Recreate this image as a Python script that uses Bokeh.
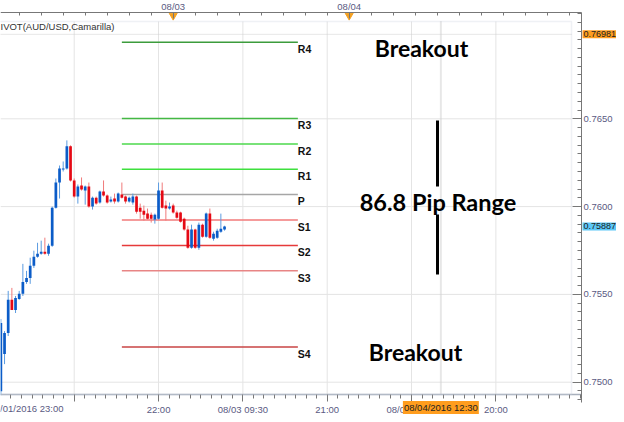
import numpy as np
from bokeh.plotting import figure
from bokeh.models import (ColumnDataSource, FixedTicker, LinearAxis, Range1d, Label,
                          BoxAnnotation, PrintfTickFormatter)
from bokeh.core.properties import value
from bokeh.embed import file_html
from bokeh.resources import INLINE

# ---------------- data ----------------
# 30-minute AUD/USD candles, time in hours relative to 08/03/2016 00:00
first_candle_hour = -23.5
candle_step_hours = 0.5
opens = [0.74949, 0.75160, 0.75280, 0.75469, 0.75411, 0.75474, 0.75503, 0.75571, 0.75594, 0.75663,
         0.75714, 0.75731, 0.75743, 0.75731, 0.75777, 0.75994, 0.76137, 0.76211, 0.76217, 0.76343,
         0.76149, 0.76057, 0.76120, 0.76091, 0.76114, 0.76000, 0.76051, 0.76023, 0.76086, 0.76063,
         0.76029, 0.76046, 0.76029, 0.76069, 0.76057, 0.76029, 0.76023, 0.76057, 0.75994, 0.75977,
         0.75960, 0.75954, 0.75926, 0.75931, 0.76091, 0.76006, 0.75989, 0.76006, 0.75966, 0.75966,
         0.75931, 0.75869, 0.75766, 0.75869, 0.75766, 0.75897, 0.75829, 0.75960, 0.75817, 0.75823,
         0.75857, 0.75869]
highs = [0.75360, 0.75291, 0.75520, 0.75537, 0.75491, 0.75520, 0.75674, 0.75634, 0.75709, 0.75749,
         0.75794, 0.75806, 0.75823, 0.75789, 0.76000, 0.76160, 0.76234, 0.76257, 0.76377, 0.76349,
         0.76160, 0.76126, 0.76166, 0.76120, 0.76137, 0.76057, 0.76057, 0.76091, 0.76149, 0.76069,
         0.76057, 0.76074, 0.76080, 0.76137, 0.76063, 0.76057, 0.76074, 0.76063, 0.76017, 0.76006,
         0.75989, 0.75966, 0.75960, 0.76137, 0.76137, 0.76034, 0.76023, 0.76017, 0.75977, 0.75971,
         0.75937, 0.75891, 0.75897, 0.75874, 0.75909, 0.75903, 0.75966, 0.75989, 0.75857, 0.75874,
         0.75960, 0.75891]
lows = [0.74926, 0.75103, 0.75263, 0.75411, 0.75394, 0.75469, 0.75491, 0.75560, 0.75560, 0.75651,
        0.75709, 0.75726, 0.75726, 0.75720, 0.75771, 0.75989, 0.76046, 0.76200, 0.76211, 0.76143,
        0.76051, 0.76017, 0.76091, 0.76011, 0.75994, 0.75983, 0.76011, 0.76017, 0.76057, 0.76017,
        0.76023, 0.76017, 0.76023, 0.76046, 0.76017, 0.76023, 0.76011, 0.75960, 0.75931, 0.75920,
        0.75926, 0.75909, 0.75903, 0.75926, 0.75989, 0.75920, 0.75983, 0.75960, 0.75931, 0.75909,
        0.75863, 0.75760, 0.75760, 0.75760, 0.75754, 0.75823, 0.75823, 0.75817, 0.75806, 0.75817,
        0.75851, 0.75863]
closes = [0.75337, 0.75280, 0.75469, 0.75411, 0.75480, 0.75503, 0.75571, 0.75594, 0.75663, 0.75714,
          0.75731, 0.75743, 0.75731, 0.75777, 0.75994, 0.76137, 0.76217, 0.76217, 0.76343, 0.76149,
          0.76057, 0.76114, 0.76097, 0.76114, 0.76000, 0.76051, 0.76017, 0.76086, 0.76063, 0.76023,
          0.76040, 0.76029, 0.76074, 0.76051, 0.76029, 0.76051, 0.76057, 0.75971, 0.75971, 0.75954,
          0.75931, 0.75931, 0.75954, 0.76091, 0.75994, 0.75989, 0.76000, 0.75966, 0.75937, 0.75914,
          0.75869, 0.75766, 0.75869, 0.75766, 0.75897, 0.75829, 0.75960, 0.75823, 0.75846, 0.75863,
          0.75874, 0.75887]

# Camarilla pivot levels
pivot_names = ["R4", "R3", "R2", "R1", "P", "S1", "S2", "S3", "S4"]
pivot_values = [0.76936, 0.76502, 0.76357, 0.76213, 0.76069, 0.75923, 0.75779, 0.75634, 0.75200]
pivot_start_hour = -7
pivot_end_hour = 17

y_ticks = [0.7500, 0.7550, 0.7600, 0.7650]
x_tick_hours = [-13.5, -2, 9.5, 21, 32.5, 44]
x_tick_labels = ["", "22:00", "08/03 09:30", "21:00", "08/04 08:30", "20:00"]
first_date_label = "08/01/2016 23:00"
top_tick_hours = [0, 24]
top_tick_labels = ["08/03", "08/04"]
last_price = 0.75887
cursor_price = 0.76981
cursor_hour = 36.5
cursor_label = "08/04/2016 12:30"
indicator_label = "IVOT(AUD/USD,Camarilla)"
range_label = "86.8 Pip Range"
breakout_label = "Breakout"

# ---------------- styles ----------------
pivot_colors = ["#3C9C3C", "#44B844", "#4CD84C", "#3EE03E", "#A6A6A6",
                "#F27A7A", "#E63A3A", "#E88585", "#C84444"]
up_body, up_wick = "#0B5CC8", "#5B9BE0"
dn_body, dn_wick = "#E50914", "#F07A7A"
axis_text = "#5A5A82"
grid_color = "#E4E4E4"
axis_font = "Liberation Sans"
axis_size = "9.5px"

n = len(opens)
hours = [first_candle_hour + candle_step_hours * i for i in range(n)]
is_up = [c >= o for o, c in zip(opens, closes)]
src = ColumnDataSource(dict(
    t=hours, o=opens, h=highs, l=lows, c=closes,
    top=[max(o, c) for o, c in zip(opens, closes)],
    bot=[min(o, c) for o, c in zip(opens, closes)],
    body=[up_body if u else dn_body for u in is_up],
    wick=[up_wick if u else dn_wick for u in is_up],
))

# pixel <-> data mapping (frame spans the whole 616 x 414 canvas)
W, H = 616, 414
px_per_hour = 7.3333
px_per_unit = 17560.0
def price_at(py):
    return 0.7650 + (118.3 - py) / px_per_unit
def hour_at(px):
    return (px - 172.7) / px_per_hour

p = figure(width=W, height=H, output_backend="svg", toolbar_location=None,
           x_range=Range1d(hour_at(0), hour_at(W)), y_range=Range1d(price_at(H), price_at(0)),
           y_axis_location="right", min_border=0, min_border_left=0, min_border_right=0,
           min_border_top=0, min_border_bottom=0)
p.outline_line_color = None
p.background_fill_color = "white"
p.border_fill_color = "white"
p.xgrid.visible = False
p.ygrid.visible = False

# grid lines (inside the inner chart box)
p.segment(x0=x_tick_hours, x1=x_tick_hours, y0=[price_at(21)] * len(x_tick_hours),
          y1=[price_at(394)] * len(x_tick_hours), line_color=grid_color, line_width=1)
p.segment(x0=[hour_at(0)] * len(y_ticks), x1=[hour_at(571)] * len(y_ticks),
          y0=y_ticks, y1=y_ticks, line_color=grid_color, line_width=1)

# inner chart box
p.add_layout(BoxAnnotation(left=hour_at(-5), right=hour_at(571),
                           bottom=price_at(394), top=price_at(21),
                           fill_alpha=0, line_color="#C9D2DE", line_width=1.5))

# cursor lines
p.segment(x0=[cursor_hour], x1=[cursor_hour], y0=[price_at(21)], y1=[price_at(394)],
          line_color="#D0D0D0", line_dash="1 1", line_width=2)
p.segment(x0=[hour_at(0)], x1=[hour_at(571)], y0=[cursor_price], y1=[cursor_price],
          line_color="#D0D0D0", line_dash="1 1", line_width=1)

# pivot lines
p.segment(x0=[pivot_start_hour] * len(pivot_values), x1=[pivot_end_hour] * len(pivot_values),
          y0=pivot_values, y1=pivot_values, line_color=pivot_colors, line_width=1.5)
p.text(x=[pivot_end_hour] * len(pivot_values), y=pivot_values, text=pivot_names,
       text_align="left", text_baseline="top", y_offset=1, x_offset=0,
       text_font=value("Liberation Sans"), text_font_style="bold",
       text_font_size="10.5px", text_color="#111111")

# candles
p.segment(x0="t", x1="t", y0="l", y1="h", line_color="wick", line_width=1, source=src)
p.vbar(x="t", width=0.37, top="top", bottom="bot", fill_color="body",
       line_color=None, source=src)

# range marker
xr = hour_at(437)
p.segment(x0=[xr, xr], x1=[xr, xr], y0=[price_at(120), price_at(214)],
          y1=[price_at(186), price_at(274)], line_color="black", line_width=3)

# annotations
p.text(x=[hour_at(421), hour_at(415)], y=[price_at(47), price_at(351)],
       text=[breakout_label, breakout_label],
       text_align="center", text_baseline="middle", text_font=value("Lato"),
       text_font_style="bold", text_font_size="23px", text_color="#000000")
p.text(x=[hour_at(437.5)], y=[price_at(201)], text=[range_label], text_align="center",
       text_baseline="middle", text_font=value("Lato"), text_font_style="bold",
       text_font_size="23.5px", text_color="#000000")
p.text(x=[hour_at(0)], y=[price_at(26)], text=[indicator_label],
       text_align="left", text_baseline="middle", text_font=value("Liberation Sans"),
       text_font_size="9.5px", text_color="#333333")

# day markers on top axis
p.scatter(x=top_tick_hours, y=[price_at(15)] * 2,
          marker="inverted_triangle", size=8, color="#F5A01E")

# ---------------- axes (fixed inside the canvas) ----------------
def style(ax):
    ax.axis_line_color = "#777777"
    ax.major_tick_line_color = "#777777"
    ax.minor_tick_line_color = "#777777"
    ax.major_label_text_color = axis_text
    ax.major_label_text_font = axis_font
    ax.major_label_text_font_size = axis_size

xa = p.xaxis[0]
style(xa)
xa.fixed_location = price_at(394)
xa.bounds = (hour_at(0), hour_at(581))
xa.ticker = FixedTicker(ticks=x_tick_hours,
                        minor_ticks=list(np.arange(-2 - 1.4375 * 16, 56, 1.4375)))
xa.major_label_overrides = {k: v for k, v in zip(x_tick_hours, x_tick_labels)}
xa.major_tick_in, xa.major_tick_out = 0, 7
xa.minor_tick_in, xa.minor_tick_out = 0, 4
xa.major_label_standoff = 2
xa.axis_line_color = "#A8B0BC"
xa.axis_line_width = 1.5

ta = LinearAxis(ticker=FixedTicker(ticks=top_tick_hours,
                                   minor_ticks=list(np.arange(-21, 55, 3))))
style(ta)
ta.fixed_location = price_at(12)
ta.bounds = (hour_at(0), hour_at(581))
ta.major_label_overrides = {k: v for k, v in zip(top_tick_hours, top_tick_labels)}
ta.major_tick_in, ta.major_tick_out = 6, 0
ta.minor_tick_in, ta.minor_tick_out = 3, 0
ta.major_label_standoff = 1
p.add_layout(ta, "above")

ya = p.yaxis[0]
style(ya)
ya.fixed_location = hour_at(581)
ya.bounds = (price_at(402), price_at(12))
ya.ticker = FixedTicker(ticks=y_ticks, minor_ticks=list(np.arange(0.7490, 0.7710, 0.0005)))
ya.formatter = PrintfTickFormatter(format="%.4f")
ya.major_tick_in, ya.major_tick_out = 9, 0
ya.minor_tick_in, ya.minor_tick_out = 4, 0
ya.major_label_standoff = 2

# ---------------- price / time boxes ----------------
box_font = dict(text_font_size="9px", text_font=axis_font, text_color="#222222")
p.add_layout(Label(x=hour_at(582), y=cursor_price, text="%.5f" % cursor_price,
                   text_baseline="middle", background_fill_color="#FF9D1E",
                   padding=1, **box_font))
p.add_layout(Label(x=hour_at(582), y=last_price, text="%.5f" % last_price,
                   text_baseline="middle", background_fill_color="#5CC8F7",
                   padding=1, **box_font))
p.add_layout(Label(x=cursor_hour, y=price_at(407), text=cursor_label,
                   text_align="center", text_baseline="middle",
                   background_fill_color="#FF9D1E", padding=1,
                   text_font_size="9.5px", text_font=axis_font, text_color="#222222"))
p.add_layout(Label(x=hour_at(63), y=price_at(407.5),
                   text=first_date_label, text_align="right", text_baseline="middle",
                   text_font_size=axis_size, text_font=axis_font, text_color=axis_text))

open("out.html", "w").write(file_html(p, INLINE))
